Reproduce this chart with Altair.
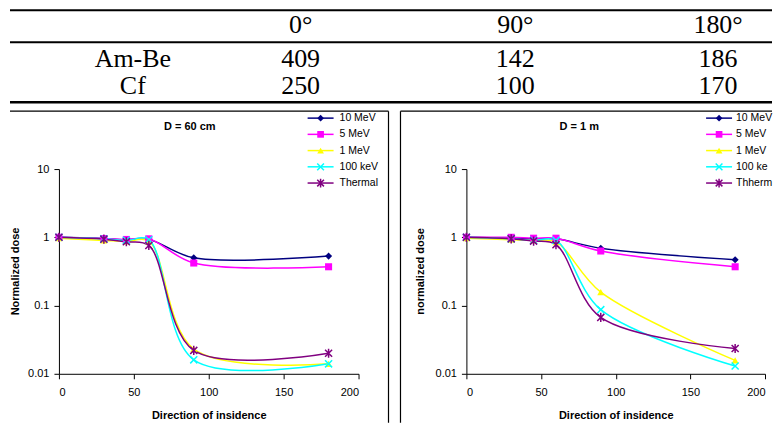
import altair as alt
import pandas as pd

SANS = "Liberation Sans"
SERIF = "Liberation Serif"

# ---------------- data ----------------
angles = [0, 30, 45, 60, 90, 180]
series = ["10 MeV", "5 MeV", "1 MeV", "100 keV", "Thermal"]
colors = ["#000080", "#FF00FF", "#FFFF00", "#00FFFF", "#800080"]

d60_10mev = [1.0, 0.96, 0.92, 0.93, 0.50, 0.53]
d60_5mev = [1.0, 0.96, 0.93, 0.95, 0.42, 0.37]
d60_1mev = [0.97, 0.90, 0.87, 0.88, 0.023, 0.014]
d60_100kev = [1.0, 0.95, 0.90, 0.92, 0.016, 0.014]
d60_thermal = [1.0, 0.94, 0.86, 0.76, 0.022, 0.020]

d1m_10mev = [1.0, 0.97, 0.95, 0.95, 0.69, 0.47]
d1m_5mev = [1.0, 1.0, 0.97, 0.97, 0.63, 0.37]
d1m_1mev = [0.97, 0.92, 0.90, 0.85, 0.157, 0.0157]
d1m_100kev = [1.0, 0.95, 0.90, 0.90, 0.087, 0.013]
d1m_thermal = [1.0, 0.95, 0.88, 0.78, 0.067, 0.0235]

legend_labels_60 = ["10 MeV", "5 MeV", "1 MeV", "100 keV", "Thermal"]
legend_labels_1m = ["10 MeV", "5 MeV", "1 MeV", "100 keV", "Thhermal"]

table_header = ["", "0°", "90°", "180°"]
table_row_ambe = ["Am-Be", "409", "142", "186"]
table_row_cf = ["Cf", "250", "100", "170"]

# ---------------- styles ----------------
X_PATH = "M-1,-1L1,1M-1,1L1,-1"
STAR_PATH = "M-1,-1L1,1M-1,1L1,-1M0,-1.3L0,1.3"
shapes = ["diamond", "square", "triangle-up", X_PATH, STAR_PATH]
filled_series = series[:3]
stroked_series = series[3:]


def long_df(cols):
    rows = []
    for s, vals in zip(series, cols):
        for a, v in zip(angles, vals):
            rows.append({"series": s, "angle": a, "dose": v})
    return pd.DataFrame(rows)


def const_df():
    return pd.DataFrame({"k": [0]})


# ---------------- table ----------------
col_x = [74, 242, 457, 660]
row_y = [17, 51, 78]
rule_specs = [(2, 2), (34, 2), (94, 2.5)]
tlayers = []
# invisible layout anchor (top-left corner of the whole picture)
tlayers.append(
    alt.Chart(const_df()).mark_rule(color="white", opacity=0, strokeWidth=0.1)
    .encode(x=alt.value(-50), x2=alt.value(-49), y=alt.value(0))
)
for ry, row in zip(row_y, [table_header, table_row_ambe, table_row_cf]):
    for cx, cell in zip(col_x, row):
        if cell == "":
            continue
        tlayers.append(
            alt.Chart(pd.DataFrame({"t": [cell]}))
            .mark_text(font=SERIF, fontSize=26, color="black", align="center", baseline="middle")
            .encode(x=alt.value(cx), y=alt.value(ry), text="t:N")
        )
for yy, sw in rule_specs:
    tlayers.append(
        alt.Chart(const_df())
        .mark_rule(color="black", strokeWidth=sw)
        .encode(x=alt.value(-49), x2=alt.value(714), y=alt.value(yy))
    )
table = alt.layer(*tlayers).properties(width=300, height=98)


# ---------------- panels ----------------
def panel(cols, labels, title, ytitle, w, g):
    df = long_df(cols)
    color = alt.Color("series:N", scale=alt.Scale(domain=series, range=colors), legend=None)
    shape = alt.Shape("series:N", scale=alt.Scale(domain=series, range=shapes), legend=None)
    x = alt.X(
        "angle:Q",
        scale=alt.Scale(domain=[0, 200], nice=False),
        axis=alt.Axis(values=[0, 50, 100, 150, 200], title="Direction of insidence",
                      titleY=42, titleBaseline="middle", labelPadding=8),
    )
    y = alt.Y(
        "dose:Q",
        scale=alt.Scale(type="log", domain=[0.01, 10], nice=False),
        axis=alt.Axis(values=[0.01, 0.1, 1, 10], format="~g", title=ytitle,
                      titleX=g["ytx"], titleY=102, titleBaseline="middle", labelPadding=5),
    )
    base = alt.Chart(df)
    lines = base.mark_line(interpolate="catmull-rom", strokeWidth=1.5).encode(x=x, y=y, color=color)
    pts_f = (
        base.transform_filter(alt.FieldOneOfPredicate(field="series", oneOf=filled_series))
        .mark_point(filled=True, size=50, opacity=1)
        .encode(x=x, y=y, color=color, shape=shape)
    )
    pts_s = (
        base.transform_filter(alt.FieldOneOfPredicate(field="series", oneOf=stroked_series))
        .mark_point(filled=False, size=50, opacity=1, strokeWidth=1.5)
        .encode(x=x, y=y, color=color, shape=shape)
    )
    inner = alt.layer(lines, pts_f, pts_s)

    leg_df = pd.DataFrame({"series": series, "label": labels, "order": list(range(len(series)))})
    ly = alt.Y("order:Q", scale=alt.Scale(domain=[0, len(series) - 1], range=[-51, 14], nice=False, zero=False), axis=None)
    lbase = alt.Chart(leg_df)
    leg_rule = lbase.mark_rule(strokeWidth=1.5).encode(
        x=alt.value(g["lx0"]), x2=alt.value(g["lx1"]), y=ly, color=color)
    leg_pf = (
        lbase.transform_filter(alt.FieldOneOfPredicate(field="series", oneOf=filled_series))
        .mark_point(filled=True, size=45, opacity=1)
        .encode(x=alt.value(g["lm"]), y=ly, color=color, shape=shape)
    )
    leg_ps = (
        lbase.transform_filter(alt.FieldOneOfPredicate(field="series", oneOf=stroked_series))
        .mark_point(filled=False, size=45, opacity=1, strokeWidth=1.5)
        .encode(x=alt.value(g["lm"]), y=ly, color=color, shape=shape)
    )
    leg_text = lbase.mark_text(
        align="left", baseline="middle", font=SANS, fontSize=10.5, color="black",
        limit=g["limit"], ellipsis="\u200b"
    ).encode(x=alt.value(g["lt"]), y=ly, text="label:N")
    legend = alt.layer(leg_rule, leg_pf, leg_ps, leg_text)

    ttl = alt.Chart(const_df()).mark_text(
        text=title, font=SANS, fontSize=11, fontWeight="bold", color="black",
        align="center", baseline="middle"
    ).encode(x=alt.value(g["tx"]), y=alt.value(-42))

    borders = []
    for (bx0, bx1, by0, by1) in g["borders"]:
        borders.append(
            alt.Chart(const_df()).mark_rule(color="black", strokeWidth=1.2)
            .encode(x=alt.value(bx0), x2=alt.value(bx1), y=alt.value(by0), y2=alt.value(by1))
        )

    return (
        alt.layer(inner, legend, ttl, *borders)
        .resolve_scale(y="independent")
        .properties(width=w, height=205)
    )


left = panel(
    [d60_10mev, d60_5mev, d60_1mev, d60_100kev, d60_thermal],
    legend_labels_60, "D = 60 cm", "Normalized dose", 300,
    dict(ytx=-43.5, lx0=249, lx1=275, lm=262, lt=281, limit=200, tx=131,
         borders=[(-49, 330, -58, -58), (330, 330, -58, 254)]),
)
right = panel(
    [d1m_10mev, d1m_5mev, d1m_1mev, d1m_100kev, d1m_thermal],
    legend_labels_1m, "D = 1 m", "normalized dose", 299,
    dict(ytx=-46, lx0=240, lx1=266, lm=253, lt=270, limit=37, tx=113,
         borders=[(-66, 306, -58, -58), (-66, -66, -58, 254)]),
)

chart = (
    alt.vconcat(
        table,
        alt.hconcat(left, right, spacing=108, bounds="flush"),
        spacing=63,
        bounds="flush",
    )
    .properties(padding=0)
    .configure_view(stroke=None)
    .configure_axis(
        labelFont=SANS, labelFontSize=11, labelColor="black",
        titleFont=SANS, titleFontSize=11, titleFontWeight="bold", titleColor="black",
        domainColor="black", tickColor="black", tickSize=5, grid=False,
        domainWidth=1, tickWidth=1,
    )
)

chart.save("out.html", embed_options={"renderer": "svg", "actions": False})
